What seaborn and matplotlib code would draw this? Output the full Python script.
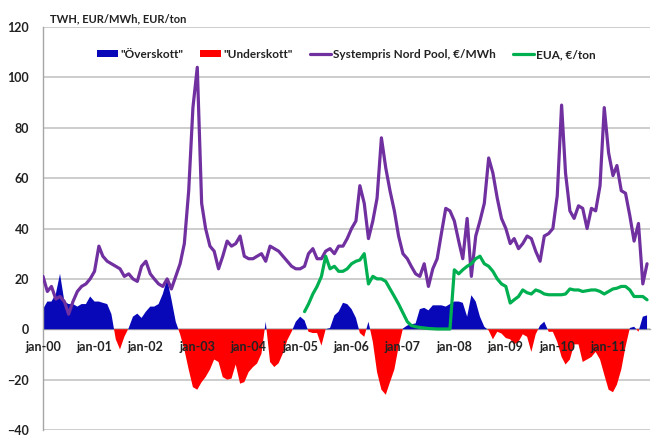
import numpy as np
import pandas as pd
import matplotlib
matplotlib.use("Agg")
import matplotlib.pyplot as plt
import matplotlib.dates as mdates
from matplotlib.patches import Patch
from matplotlib.lines import Line2D
import seaborn as sns

# ---------------- data (monthly, from Jan 2000) ----------------
start_month = "2000-01-01"
eua_start = "2005-02-01"

systempris = [
    21, 15, 17, 12, 13, 11, 6, 11, 15, 17,
    18, 20, 23, 33, 29, 27, 26, 25, 24, 21,
    22, 20, 19, 25, 27, 22, 20, 18, 17, 20,
    16, 21, 26, 34, 55, 88, 104, 50, 40, 33,
    31, 24, 29, 35, 33, 34, 37, 29, 28, 28,
    29, 30, 27, 33, 32, 31, 29, 27, 25, 24,
    24, 25, 30, 32, 28, 28, 31, 32, 30, 33,
    33, 36, 40, 43, 57, 50, 36, 43, 52, 76,
    64, 55, 47, 37, 30, 28, 25, 22, 21, 26,
    17, 24, 28, 38, 48, 47, 43, 35, 28, 44,
    21, 37, 43, 50, 68, 62, 52, 44, 40, 34,
    36, 32, 34, 37, 36, 31, 27, 37, 38, 40,
    53, 89, 62, 47, 44, 49, 48, 40, 48, 47,
    57, 88, 70, 61, 65, 55, 54, 45, 35, 42,
    18, 26,
]

balans = [
    8, 11, 11, 14, 22, 11, 10, 10, 9, 10,
    10, 13, 11, 11, 10.5, 10, 6, -4, -8, -3,
    0.5, 5, 6.2, 4.5, 7, 9, 9, 10, 14, 20,
    12, 3, -2, -8, -16, -23, -24, -21, -19, -16,
    -12, -13, -19, -20, -19.6, -14, -21.6, -21, -17, -15,
    -13.6, -9.7, 3, -13, -15, -13.5, -9.5, -4.4, -1, 3,
    5, 3.5, -1, -1.5, -1.5, -6.5, 0, 0.5, 5.5, 7,
    10.5, 10, 8, 4.5, -1.5, -3, 3, -5, -17, -24,
    -26, -21, -16, -7, 0.3, 1.5, 2, 2.3, 8, 8.5,
    7.5, 9.5, 9.5, 9.5, 9, 10, 11, 11, 10.5, 5,
    13.5, 11, 5, 1, -0.5, -4, -1, -1.7, -3.5, -4,
    -6, -5, -2, -3, -9, -2, 1.5, 3, -1, -1,
    -5, -11, -14, -12, -6, -6, -13, -12, -11, -9,
    -12, -18, -24, -25, -22, -16, -7, 0.5, 1, -1,
    5, 5.5,
]

eua = [
    7, 10, 14, 17, 21, 29, 24, 25, 23, 23,
    24, 26, 27, 27.5, 30, 18, 21, 20, 20, 19,
    16, 13, 10, 6.5, 3, 1.5, 1, 0.7, 0.5, 0.3,
    0.2, 0.1, 0.1, 0.1, 0.1, 23.6, 22, 23.6, 25, 26,
    28, 29, 26, 25, 23, 20, 18, 17, 10.4, 11.7,
    13, 15.6, 14.5, 14, 15.6, 15, 14, 13.7, 13.7, 13.7,
    13.7, 14, 16, 15.6, 15.6, 15, 15.3, 15.6, 15.6, 15,
    14, 15, 16, 16.3, 17, 17, 15.6, 13, 13, 13, 11.7,
]

legend_labels = ['"Överskott"', '"Underskott"', "Systempris Nord Pool, €/MWh", "EUA, €/ton"]
y_ticks = [-40, -20, 0, 20, 40, 60, 80, 100, 120]
axis_title = "TWH, EUR/MWh, EUR/ton"

# ---------------- frames ----------------
dates = pd.date_range(start_month, periods=len(systempris), freq="MS")
df = pd.DataFrame({"date": dates, "price": systempris, "balance": balans})
eua_dates = pd.date_range(eua_start, periods=len(eua), freq="MS")
df_eua = pd.DataFrame({"date": eua_dates, "eua": eua})

C_BLUE = "#0808b8"
C_RED = "#ff0000"
C_PURPLE = "#7030a0"
C_GREEN = "#00b050"
C_GRID = "#c0c0c0"

sns.set_theme(style="white")
plt.rcParams["font.family"] = ["Lato", "DejaVu Sans"]

fig = plt.figure(figsize=(6.52, 4.37), dpi=100)
ax = fig.add_axes([43 / 652, 7 / 437, 607 / 652, 403 / 437])

x = mdates.date2num(df["date"])
b = np.array(df["balance"], dtype=float)
ax.fill_between(x, b, 0, where=b >= 0, interpolate=True, color=C_BLUE, lw=0, zorder=2)
ax.fill_between(x, b, 0, where=b <= 0, interpolate=True, color=C_RED, lw=0, zorder=2)

sns.lineplot(data=df, x="date", y="price", color=C_PURPLE, lw=2.3, ax=ax, zorder=3)
sns.lineplot(data=df_eua, x="date", y="eua", color=C_GREEN, lw=2.3, ax=ax, zorder=4)

ax.set_xlim(pd.Timestamp("2000-01-01"), pd.Timestamp("2011-10-22"))
ax.set_ylim(-40, 120)
ax.set_yticks(y_ticks)
ax.set_xlabel("")
ax.set_ylabel("")

ax.yaxis.grid(True, color=C_GRID, lw=1.1)
ax.xaxis.grid(False)
ax.set_axisbelow(True)
ax.xaxis.set_zorder(5)

for s in ["top", "right"]:
    ax.spines[s].set_visible(False)
ax.spines["left"].set_color("#a6a6a6")
ax.spines["left"].set_linewidth(1.0)
ax.spines["bottom"].set_position(("data", 0))
ax.spines["bottom"].set_color("#a6a6a6")
ax.spines["bottom"].set_linewidth(1.0)
ax.spines["bottom"].set_zorder(1.5)

ax.xaxis.set_major_locator(mdates.YearLocator())
ax.xaxis.set_major_formatter(mdates.DateFormatter("jan-%y"))
ax.tick_params(axis="x", direction="inout", length=5, width=1, color="#a6a6a6",
               pad=6, labelsize=9, labelcolor="#222222")
ax.tick_params(axis="y", length=0, pad=10, labelsize=9, labelcolor="#222222")
for lab in ax.get_xticklabels() + ax.get_yticklabels():
    lab.set_fontweight("bold")

fig.text(50 / 652, 1 - 19 / 437, axis_title, fontsize=8, fontweight="bold",
         va="center", ha="left", color="#222222")

handles = [
    Patch(facecolor=C_BLUE, edgecolor="none"),
    Patch(facecolor=C_RED, edgecolor="none"),
    Line2D([], [], color=C_PURPLE, lw=2.3),
    Line2D([], [], color=C_GREEN, lw=2.3),
]
leg = ax.legend(handles, legend_labels, loc="center", bbox_to_anchor=(0.5, 0.932),
                ncol=4, frameon=False, handlelength=1.8,
                handleheight=0.5, handletextpad=0.2, columnspacing=1.4,
                prop={"weight": "bold", "size": 8.5})
for t in leg.get_texts():
    t.set_color("#222222")

fig.savefig("out.png", dpi=100)
